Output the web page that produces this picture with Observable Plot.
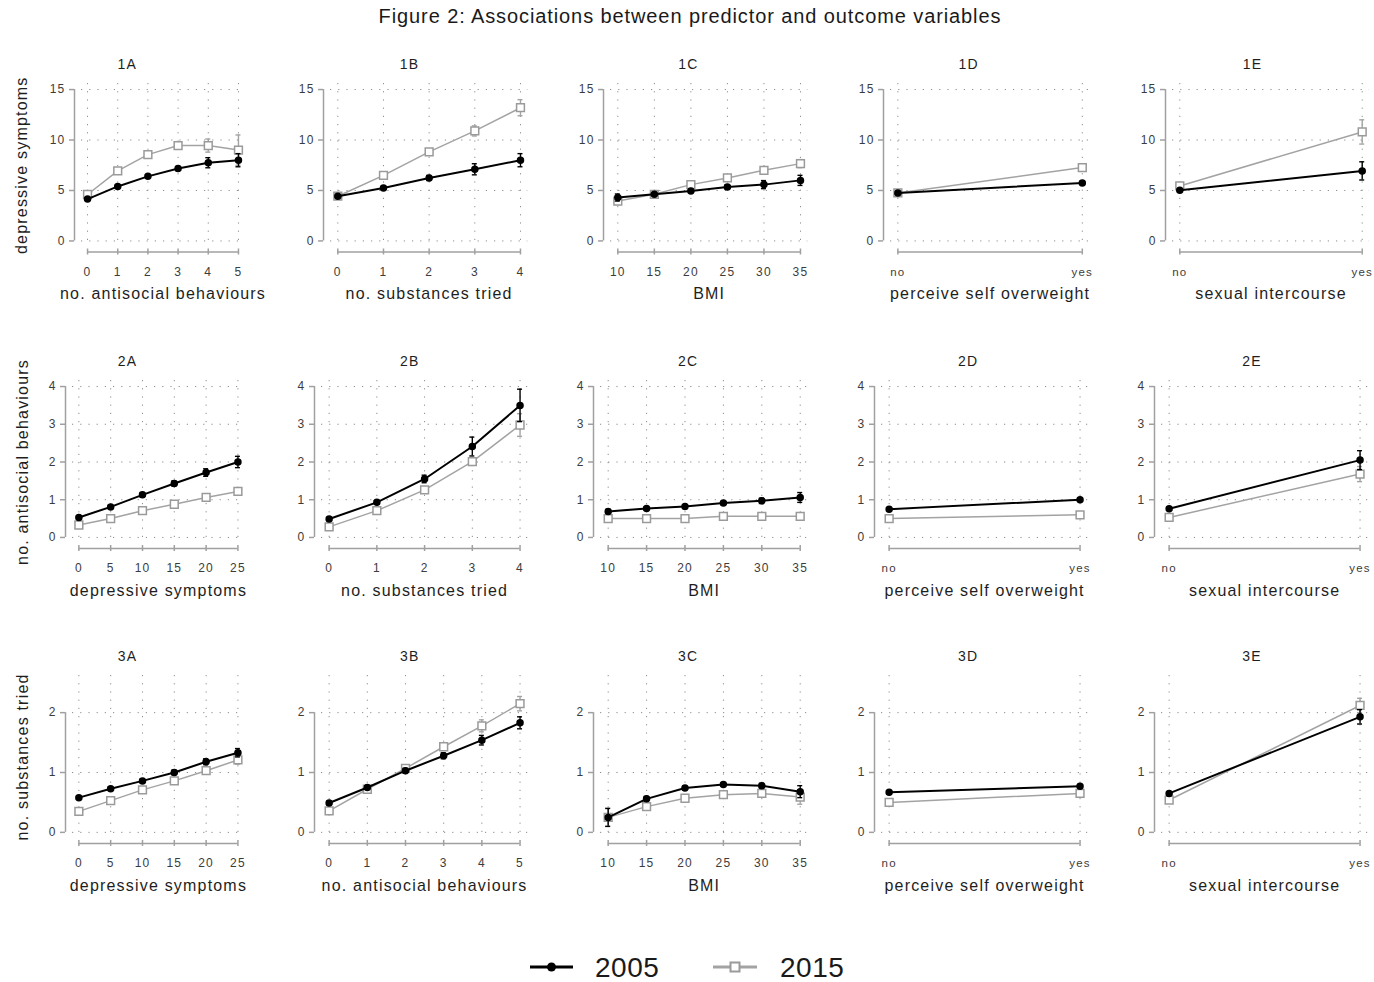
<!DOCTYPE html>
<html>
<head>
<meta charset="utf-8">
<script src="https://cdn.jsdelivr.net/npm/d3@7"></script>
<script src="https://cdn.jsdelivr.net/npm/@observablehq/plot@0.6"></script>
<style>
  body { margin: 0; background: #fff; }
  #fig { position: relative; width: 1374px; height: 982px; overflow: hidden; font-family: "Liberation Sans", Arial, sans-serif; }
  #title { position: absolute; left: 0; width: 1380px; top: 5px; text-align: center; font-size: 20px; letter-spacing: 0.9px; color: #1a1a1a; }
  #legend { position: absolute; left: 0; top: 0; }
</style>
</head>
<body>
<div id="fig">
  <div id="title">Figure 2: Associations between predictor and outcome variables</div>
</div>
<script>
// ---------------- data ----------------
const years = ["2005", "2015"];
const panelIds = [["1A","1B","1C","1D","1E"],["2A","2B","2C","2D","2E"],["3A","3B","3C","3D","3E"]];
const rowTitles = ["depressive symptoms", "no. antisocial behaviours", "no. substances tried"];
const xTitles = [
  ["no. antisocial behaviours", "no. substances tried", "BMI", "perceive self overweight", "sexual intercourse"],
  ["depressive symptoms", "no. substances tried", "BMI", "perceive self overweight", "sexual intercourse"],
  ["depressive symptoms", "no. antisocial behaviours", "BMI", "perceive self overweight", "sexual intercourse"]
];
const ticksAntisocial = [0, 1, 2, 3, 4, 5];
const ticksSubstances = [0, 1, 2, 3, 4];
const ticksBMI = [10, 15, 20, 25, 30, 35];
const ticksDepressive = [0, 5, 10, 15, 20, 25];
const ticksBinary = [0, 1];
const labelsBinary = ["no", "yes"];
const yTicksRow = [[0, 5, 10, 15], [0, 1, 2, 3, 4], [0, 1, 2]];
const yRangeRow = [[0, 15], [0, 4], [0, 2.52]];

// row 1: depressive symptoms
const mean1A_2005 = [4.15, 5.4, 6.4, 7.17, 7.75, 8.0];   const ci1A_2005 = [0.1, 0.1, 0.15, 0.2, 0.5, 0.65];
const mean1A_2015 = [4.6, 6.95, 8.55, 9.45, 9.45, 9.0];  const ci1A_2015 = [0.15, 0.15, 0.2, 0.3, 0.65, 1.5];
const mean1B_2005 = [4.43, 5.25, 6.24, 7.1, 8.0];        const ci1B_2005 = [0.1, 0.15, 0.25, 0.55, 0.65];
const mean1B_2015 = [4.43, 6.5, 8.82, 10.9, 13.2];       const ci1B_2015 = [0.15, 0.2, 0.3, 0.5, 0.8];
const mean1C_2005 = [4.3, 4.62, 4.95, 5.35, 5.58, 6.0];  const ci1C_2005 = [0.35, 0.15, 0.15, 0.2, 0.4, 0.5];
const mean1C_2015 = [3.95, 4.62, 5.58, 6.24, 7.0, 7.66]; const ci1C_2015 = [0.35, 0.15, 0.15, 0.2, 0.3, 0.4];
const mean1D_2005 = [4.76, 5.75];  const ci1D_2005 = [0.1, 0.15];
const mean1D_2015 = [4.76, 7.27];  const ci1D_2015 = [0.1, 0.3];
const mean1E_2005 = [5.02, 6.94];  const ci1E_2005 = [0.1, 0.9];
const mean1E_2015 = [5.45, 10.8];  const ci1E_2015 = [0.15, 1.2];
// row 2: antisocial behaviours
const mean2A_2005 = [0.53, 0.81, 1.13, 1.43, 1.72, 2.0];  const ci2A_2005 = [0.03, 0.04, 0.06, 0.07, 0.1, 0.15];
const mean2A_2015 = [0.33, 0.5, 0.71, 0.88, 1.06, 1.22];  const ci2A_2015 = [0.02, 0.03, 0.04, 0.04, 0.06, 0.08];
const mean2B_2005 = [0.49, 0.93, 1.55, 2.41, 3.5];        const ci2B_2005 = [0.04, 0.05, 0.1, 0.25, 0.43];
const mean2B_2015 = [0.28, 0.71, 1.26, 2.01, 2.98];       const ci2B_2015 = [0.03, 0.04, 0.06, 0.1, 0.3];
const mean2C_2005 = [0.69, 0.77, 0.82, 0.91, 0.97, 1.06]; const ci2C_2005 = [0.05, 0.04, 0.03, 0.04, 0.07, 0.13];
const mean2C_2015 = [0.5, 0.5, 0.5, 0.56, 0.56, 0.56];    const ci2C_2015 = [0.04, 0.03, 0.03, 0.03, 0.04, 0.05];
const mean2D_2005 = [0.75, 1.0];   const ci2D_2005 = [0.02, 0.04];
const mean2D_2015 = [0.5, 0.6];    const ci2D_2015 = [0.02, 0.04];
const mean2E_2005 = [0.76, 2.05];  const ci2E_2005 = [0.03, 0.25];
const mean2E_2015 = [0.53, 1.68];  const ci2E_2015 = [0.03, 0.2];
// row 3: substances tried
const mean3A_2005 = [0.58, 0.73, 0.86, 1.0, 1.18, 1.33];  const ci3A_2005 = [0.02, 0.03, 0.03, 0.04, 0.05, 0.07];
const mean3A_2015 = [0.35, 0.53, 0.71, 0.86, 1.03, 1.21]; const ci3A_2015 = [0.02, 0.03, 0.03, 0.04, 0.05, 0.07];
const mean3B_2005 = [0.49, 0.75, 1.03, 1.28, 1.54, 1.83]; const ci3B_2005 = [0.03, 0.03, 0.04, 0.05, 0.08, 0.1];
const mean3B_2015 = [0.36, 0.72, 1.07, 1.43, 1.78, 2.15]; const ci3B_2015 = [0.03, 0.03, 0.04, 0.06, 0.1, 0.12];
const mean3C_2005 = [0.25, 0.56, 0.74, 0.8, 0.78, 0.68];  const ci3C_2005 = [0.15, 0.04, 0.03, 0.03, 0.04, 0.1];
const mean3C_2015 = [0.25, 0.43, 0.57, 0.63, 0.65, 0.59]; const ci3C_2015 = [0.15, 0.04, 0.03, 0.03, 0.04, 0.12];
const mean3D_2005 = [0.67, 0.77];  const ci3D_2005 = [0.02, 0.03];
const mean3D_2015 = [0.5, 0.65];   const ci3D_2015 = [0.02, 0.03];
const mean3E_2005 = [0.65, 1.93];  const ci3E_2005 = [0.02, 0.12];
const mean3E_2015 = [0.54, 2.12];  const ci3E_2015 = [0.02, 0.12];

// ---------------- layout (pixels) ----------------
const rowRegions = [[83.3, 246.8], [379.7, 542.7], [674.8, 837.7]];
const colRegions = [
  [[81.3, 244.3], [330, 527.3], [610, 807.3], [889.9, 1089.1], [1172, 1369]],
  [[71.9, 243.7], [320.7, 526.9], [600.3, 807.7], [881.4, 1087.6], [1161.4, 1367.6]],
  [[71.9, 243.7], [320.7, 526.9], [600.3, 807.7], [881.4, 1087.6], [1161.4, 1367.6]]
];
const titleXs = [127, 409, 688, 968, 1252];
const yTitleX = 22;

const colTicks = [
  [ticksAntisocial, ticksSubstances, ticksBMI, ticksBinary, ticksBinary],
  [ticksDepressive, ticksSubstances, ticksBMI, ticksBinary, ticksBinary],
  [ticksDepressive, ticksAntisocial, ticksBMI, ticksBinary, ticksBinary]
];
const means = {
  "1A": [mean1A_2005, mean1A_2015], "1B": [mean1B_2005, mean1B_2015], "1C": [mean1C_2005, mean1C_2015], "1D": [mean1D_2005, mean1D_2015], "1E": [mean1E_2005, mean1E_2015],
  "2A": [mean2A_2005, mean2A_2015], "2B": [mean2B_2005, mean2B_2015], "2C": [mean2C_2005, mean2C_2015], "2D": [mean2D_2005, mean2D_2015], "2E": [mean2E_2005, mean2E_2015],
  "3A": [mean3A_2005, mean3A_2015], "3B": [mean3B_2005, mean3B_2015], "3C": [mean3C_2005, mean3C_2015], "3D": [mean3D_2005, mean3D_2015], "3E": [mean3E_2005, mean3E_2015]
};
const cis = {
  "1A": [ci1A_2005, ci1A_2015], "1B": [ci1B_2005, ci1B_2015], "1C": [ci1C_2005, ci1C_2015], "1D": [ci1D_2005, ci1D_2015], "1E": [ci1E_2005, ci1E_2015],
  "2A": [ci2A_2005, ci2A_2015], "2B": [ci2B_2005, ci2B_2015], "2C": [ci2C_2005, ci2C_2015], "2D": [ci2D_2005, ci2D_2015], "2E": [ci2E_2005, ci2E_2015],
  "3A": [ci3A_2005, ci3A_2015], "3B": [ci3B_2005, ci3B_2015], "3C": [ci3C_2005, ci3C_2015], "3D": [ci3D_2005, ci3D_2015], "3E": [ci3E_2005, ci3E_2015]
};

// ---------------- styles ----------------
const FONT = "Liberation Sans, Arial, sans-serif";
const gridColor = "#8c8c8c";
const axisColor = "#a0a0a0";
const tickLabelColor = "#3c3c3c";
const textColor = "#1e1e1e";
const seriesStroke = {"2005": "#000000", "2015": "#a3a3a3"};
const seriesWidth = {"2005": 2, "2015": 1.5};

const fig = document.getElementById("fig");

for (let r = 0; r < 3; r++) {
  for (let c = 0; c < 5; c++) {
    const id = panelIds[r][c];
    const ticks = colTicks[r][c];
    const yTicks = yTicksRow[r];
    const binary = ticks === ticksBinary;
    const xa = ticks[0], xb = ticks[ticks.length - 1];
    const xpad = 0.04 * (xb - xa);
    const [ya, yb] = yRangeRow[r];
    const ypad = 0.04 * (yb - ya);
    const xDom = [xa - xpad, xb + xpad];
    const yDom = [ya - ypad, yb + ypad];
    const [L, R] = colRegions[r][c];
    const [T, B] = rowRegions[r];
    const mL = 80, mR = 12, mT = 40, mB = 60;

    const rows = [];
    years.forEach((yr, k) => means[id][k].forEach((m, i) => rows.push({
      year: yr, x: ticks[i], y: m, lo: m - cis[id][k][i], hi: m + cis[id][k][i]
    })));
    const seriesMarks = [];
    for (const yr of ["2015", "2005"]) {
      const d = rows.filter(o => o.year === yr);
      const st = seriesStroke[yr];
      seriesMarks.push(
        Plot.ruleX(d, {x: "x", y1: "lo", y2: "hi", stroke: st, strokeWidth: 1.4}),
        Plot.ruleY(d, {y: "hi", x1: "x", x2: "x", insetLeft: -2.5, insetRight: -2.5, stroke: st, strokeWidth: 1.4}),
        Plot.ruleY(d, {y: "lo", x1: "x", x2: "x", insetLeft: -2.5, insetRight: -2.5, stroke: st, strokeWidth: 1.4}),
        Plot.line(d, {x: "x", y: "y", stroke: st, strokeWidth: seriesWidth[yr]}),
        yr === "2005"
          ? Plot.dot(d, {x: "x", y: "y", r: 3, fill: st, stroke: st})
          : Plot.dot(d, {x: "x", y: "y", symbol: "square", r: 4.4, fill: "white", stroke: "#9a9a9a", strokeWidth: 1.5})
      );
    }

    const fmt = binary ? (d => labelsBinary[d]) : (d => String(d));
    const marks = [
      // dotted grid
      Plot.ruleX(ticks, {stroke: gridColor, strokeWidth: 1, strokeDasharray: "1.2,7"}),
      Plot.ruleY(yTicks, {stroke: gridColor, strokeWidth: 1, strokeDasharray: "1.2,7"}),
      // x axis (detached)
      Plot.ruleY([yDom[0]], {x1: xa, x2: xb, dy: 5, stroke: axisColor, strokeWidth: 1.5}),
      Plot.ruleX(ticks, {y1: yDom[0], y2: yDom[0], insetTop: -3, insetBottom: -3, dy: 5, stroke: axisColor, strokeWidth: 1.5}),
      Plot.text(ticks, {x: d => d, y: yDom[0], dy: 25, text: fmt, fill: tickLabelColor, fontSize: binary ? 11.5 : 12, lineAnchor: "middle", letterSpacing: 0}),
      // y axis (detached)
      Plot.ruleX([xDom[0]], {y1: yTicks[0], y2: yTicks[yTicks.length - 1], dx: -7, stroke: axisColor, strokeWidth: 1.5}),
      Plot.ruleY(yTicks, {x1: xDom[0], x2: xDom[0], insetLeft: -5, dx: -7, stroke: axisColor, strokeWidth: 1.5}),
      Plot.text(yTicks, {x: xDom[0], y: d => d, dx: -16, text: d => String(d), textAnchor: "end", fill: tickLabelColor, fontSize: 12, lineAnchor: "middle"}),
      // axis titles and panel title
      Plot.text([xTitles[r][c]], {frameAnchor: "bottom", dy: 47, fill: textColor, fontSize: 16, lineAnchor: "middle", textAnchor: "middle"}),
      Plot.text([id], {frameAnchor: "top", dx: titleXs[c] - (L + R) / 2, dy: -19, fill: textColor, fontSize: 14, lineAnchor: "middle", textAnchor: "middle"}),
      ...seriesMarks
    ];
    if (c === 0) {
      marks.push(Plot.text([rowTitles[r]], {frameAnchor: "left", dx: yTitleX - L, rotate: -90, fill: textColor, fontSize: 16, lineAnchor: "middle", textAnchor: "middle"}));
    }

    const svg = Plot.plot({
      width: R - L + mL + mR,
      height: B - T + mT + mB,
      marginLeft: mL, marginRight: mR, marginTop: mT, marginBottom: mB,
      x: {domain: xDom, axis: null},
      y: {domain: yDom, axis: null},
      style: {background: "transparent", overflow: "visible", fontFamily: FONT, letterSpacing: "1.2px", maxWidth: "none"},
      marks
    });
    svg.style.position = "absolute";
    svg.style.left = (L - mL) + "px";
    svg.style.top = (T - mT) + "px";
    fig.appendChild(svg);
  }
}

// ---------------- legend ----------------
const ns = "http://www.w3.org/2000/svg";
const leg = document.createElementNS(ns, "svg");
leg.setAttribute("id", "legend");
leg.setAttribute("width", 1374);
leg.setAttribute("height", 982);
leg.style.position = "absolute";
leg.style.left = "0px"; leg.style.top = "0px";
leg.innerHTML = `
  <line x1="530" x2="573" y1="967" y2="967" stroke="#000" stroke-width="3"/>
  <circle cx="551.5" cy="967" r="4.5" fill="#000"/>
  <text x="595" y="977" font-family="${FONT}" font-size="28" fill="#1a1a1a" letter-spacing="0.5">${years[0]}</text>
  <line x1="713" x2="757" y1="967" y2="967" stroke="#a3a3a3" stroke-width="3"/>
  <rect x="730.5" y="962.5" width="9" height="9" fill="#fff" stroke="#9a9a9a" stroke-width="2"/>
  <text x="780" y="977" font-family="${FONT}" font-size="28" fill="#1a1a1a" letter-spacing="0.5">${years[1]}</text>`;
fig.appendChild(leg);
</script>
</body>
</html>
